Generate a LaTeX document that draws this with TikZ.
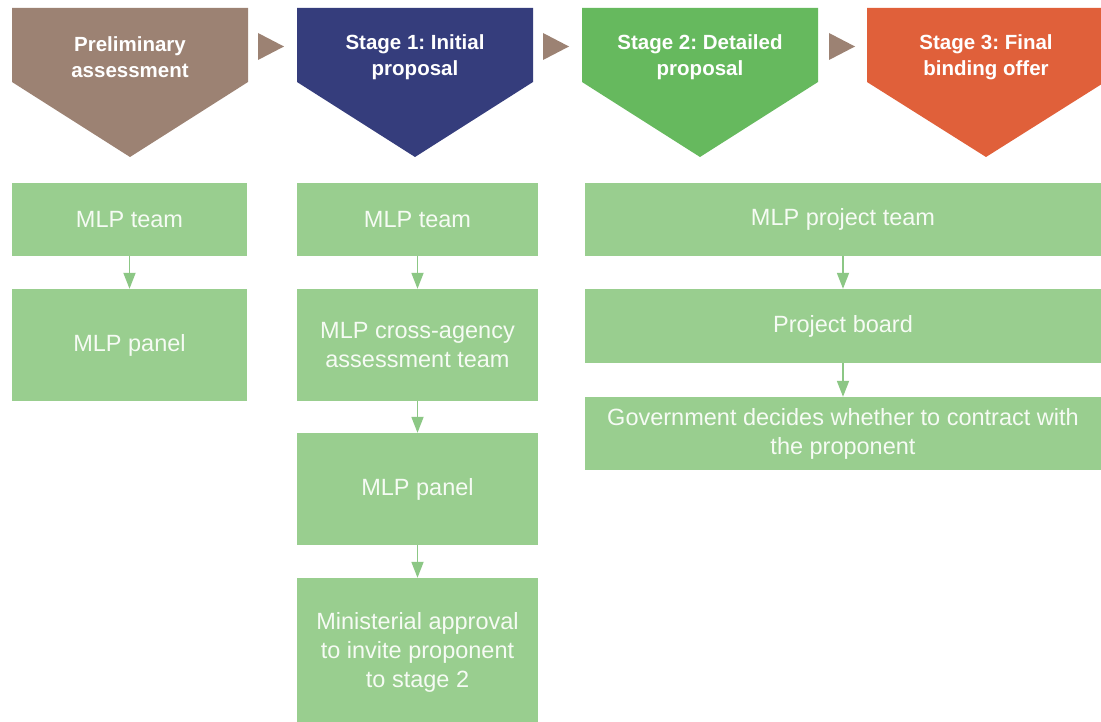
\documentclass[tikz,border=0pt]{standalone}
\usepackage{fontspec}
\setmainfont{Liberation Sans}
\usetikzlibrary{arrows.meta}
\frenchspacing
\definecolor{cbrown}{HTML}{9C8273}
\definecolor{cnavy}{HTML}{353D7C}
\definecolor{cgreen}{HTML}{66B95E}
\definecolor{corange}{HTML}{E0603A}
\definecolor{cbox}{HTML}{99CE8F}
\definecolor{carrow}{HTML}{8CC785}
\definecolor{ctext}{HTML}{F6FBF4}
\tikzset{
  hdr/.style={text=white, align=center, font=\fontsize{20.5}{26}\selectfont\bfseries, inner sep=0pt},
  box/.style={fill=cbox, text=ctext, align=center, inner sep=0pt, font=\fontsize{23.5}{29}\selectfont},
  col1/.style={box, minimum width=235pt},
  col2/.style={box, minimum width=241pt},
  col3/.style={box, minimum width=516pt},
  arr/.style={draw=carrow, line width=1.8pt, -{Triangle[width=12pt,length=16pt]}},
  tri/.style={fill=cbrown}
}
\begin{document}
\begin{tikzpicture}[x=1pt,y=-1pt]
\path[use as bounding box, fill=white] (0,0) rectangle (1101,722);
% chevrons
\fill[cbrown]  (12,8) -- (248,8) -- (248,82) -- (130,157) -- (12,82) -- cycle;
\fill[cnavy]   (297,8) -- (533,8) -- (533,82) -- (415,157) -- (297,82) -- cycle;
\fill[cgreen]  (582,8) -- (818,8) -- (818,82) -- (700,157) -- (582,82) -- cycle;
\fill[corange] (867,8) -- (1105,8) -- (1105,82) -- (986,157) -- (867,82) -- cycle;
% small triangles between chevrons
\fill[tri] (258,33) -- (284,46.5) -- (258,60) -- cycle;
\fill[tri] (543,33) -- (569,46.5) -- (543,60) -- cycle;
\fill[tri] (829,33) -- (855,46.5) -- (829,60) -- cycle;
% header texts
\node[hdr] (h0) at (130,57) {Preliminary\\assessment};
\node[hdr] (h1) at (415,57) {Stage 1: Initial\\proposal};
\node[hdr] (h2) at (700,57) {Stage 2: Detailed\\proposal};
\node[hdr] (h3) at (986,57) {Stage 3: Final\\binding offer};
% column 1
\node[col1, minimum height=73pt] (a1) at (129.5,219.5) {MLP team};
\node[col1, minimum height=112pt] (a2) at (129.5,345) {MLP panel};
% column 2
\node[col2, minimum height=73pt] (b1) at (417.5,219.5) {MLP team};
\node[col2, minimum height=112pt] (b2) at (417.5,345) {MLP cross-agency\\assessment team};
\node[col2, minimum height=112pt] (b3) at (417.5,489) {MLP panel};
\node[col2, minimum height=148pt] (b4) at (417.5,652) {Ministerial approval\\to invite proponent\\to stage 2};
% column 3
\node[col3, minimum height=73pt] (c1) at (843,219.5) {MLP project team};
\node[col3, minimum height=74pt] (c2) at (843,326) {Project board};
\node[col3, minimum height=73pt] (c3) at (843,433.5) {Government decides whether to contract with\\the proponent};
% connectors
\draw[arr] (a1) -- (a2);
\draw[arr] (b1) -- (b2);
\draw[arr] (b2) -- (b3);
\draw[arr] (b3) -- (b4);
\draw[arr] (c1) -- (c2);
\draw[arr] (c2) -- (c3);
\end{tikzpicture}
\end{document}
